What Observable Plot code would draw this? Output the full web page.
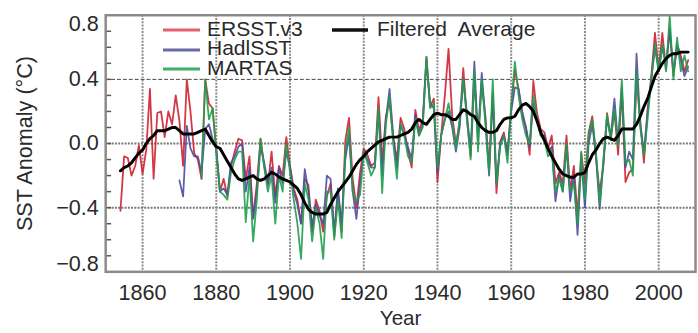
<!DOCTYPE html>
<html>
<head>
<meta charset="utf-8">
<script src="https://cdn.jsdelivr.net/npm/d3@7"></script>
<script src="https://cdn.jsdelivr.net/npm/@observablehq/plot@0.6"></script>
<style>
  html, body { margin: 0; padding: 0; background: #fff; overflow: hidden; }
  #wrap { position: relative; width: 698px; height: 333px; overflow: hidden; }
  #legend { position: absolute; left: 0; top: 0; }
  svg text { font-family: "Liberation Sans", Arial, sans-serif; }
</style>
</head>
<body>
<div id="wrap"></div>
<script>
const ersstStart = 1854;
const ersst = [-0.42,-0.08,-0.09,-0.20,-0.14,-0.01,-0.19,-0.04,0.34,-0.22,
0.19,0.20,0.04,0.20,0.12,0.30,0.14,-0.14,0.40,0.20,
-0.06,-0.10,-0.22,0.40,0.25,0.22,-0.05,-0.30,-0.22,-0.33,
-0.14,-0.05,0.03,0.02,-0.22,-0.08,-0.46,-0.25,0.03,-0.14,
-0.26,-0.05,-0.33,-0.14,-0.20,0.04,-0.14,-0.28,-0.35,-0.50,
-0.22,-0.26,-0.55,-0.35,-0.42,-0.55,-0.33,-0.25,-0.58,-0.30,
-0.55,0.02,0.16,-0.22,-0.40,-0.18,-0.03,-0.07,-0.14,-0.12,
0.29,-0.12,0.17,0.26,0.03,-0.10,0.16,0.09,-0.05,-0.15,
0.21,0.08,0.15,0.54,0.23,0.28,-0.24,0.05,0.30,0.59,
0.17,0.00,0.12,0.47,0.15,-0.08,0.40,0.05,0.38,0.17,
-0.15,0.32,-0.31,0.01,0.07,-0.07,0.23,0.46,0.34,0.17,
0.10,-0.07,0.39,0.19,0.09,0.07,-0.03,0.05,-0.25,-0.18,
-0.25,0.05,-0.30,-0.14,-0.45,-0.06,-0.25,0.07,0.17,-0.09,
-0.30,-0.14,0.19,0.03,0.20,-0.07,0.33,-0.24,-0.18,-0.16,
0.40,0.15,-0.12,0.21,0.42,0.69,0.46,0.69,0.46,0.72,
0.42,0.62,0.55,0.45,0.52];

const hadStart = 1870;
const hadisst = [-0.23,-0.33,0.11,-0.03,-0.08,-0.08,-0.18,0.09,0.12,0.03,
-0.03,-0.30,-0.28,-0.32,-0.12,-0.08,-0.02,0.00,-0.30,-0.15,
-0.47,-0.30,-0.02,-0.12,-0.25,-0.15,-0.37,-0.15,-0.25,-0.05,
-0.15,-0.30,-0.38,-0.50,-0.16,-0.30,-0.52,-0.38,-0.45,-0.50,
-0.20,-0.22,-0.55,-0.28,-0.50,-0.10,0.05,-0.30,-0.47,-0.25,
-0.05,-0.10,-0.15,-0.15,0.20,-0.20,0.15,0.34,0.05,-0.15,
0.12,0.05,-0.02,-0.10,0.18,0.05,0.12,0.52,0.25,0.22,
-0.18,0.05,0.15,0.20,0.10,-0.05,0.10,0.40,0.18,-0.05,
0.51,0.02,0.44,0.15,-0.20,0.30,-0.25,0.00,0.05,-0.05,
0.20,0.35,0.34,0.20,0.10,-0.02,0.25,0.15,0.05,0.05,
-0.05,-0.02,-0.36,-0.20,-0.30,-0.02,-0.36,-0.20,-0.57,-0.10,
-0.40,0.00,0.12,-0.08,-0.41,-0.12,0.15,0.05,0.28,0.00,
0.35,-0.15,-0.05,-0.10,0.56,0.12,-0.05,0.20,0.40,0.60,
0.45,0.60,0.50,0.70,0.45,0.60,0.52,0.42,0.48];

const martasStart = 1876;
const martas = [-0.22,0.40,0.15,0.22,-0.05,-0.30,-0.32,-0.35,-0.18,-0.10,
-0.05,-0.05,-0.49,-0.20,-0.61,-0.35,0.03,-0.15,-0.30,-0.20,
-0.50,-0.20,-0.30,0.00,-0.18,-0.35,-0.50,-0.72,-0.25,-0.35,
-0.61,-0.40,-0.50,-0.72,-0.30,-0.30,-0.60,-0.35,-0.59,-0.05,
0.10,-0.30,-0.36,-0.32,-0.05,-0.12,-0.20,-0.15,0.22,-0.31,
0.12,0.30,0.00,-0.22,0.12,0.05,-0.08,-0.12,0.15,0.05,
0.10,0.54,0.22,0.25,-0.15,0.05,0.15,0.25,0.12,-0.03,
0.15,0.40,0.15,-0.10,0.45,-0.05,0.40,0.12,-0.18,0.40,
-0.25,-0.02,0.05,-0.12,0.22,0.51,0.30,0.15,0.05,0.00,
0.30,0.15,0.05,0.02,-0.08,-0.05,-0.30,-0.22,-0.30,0.00,
-0.30,-0.25,-0.50,-0.05,-0.35,0.05,0.15,-0.05,-0.38,-0.10,
0.18,0.02,0.22,-0.02,0.40,-0.12,-0.10,-0.20,0.45,0.10,
-0.08,0.15,0.40,0.62,0.45,0.62,0.45,0.80,0.40,0.66,
0.45,0.55,0.45];

const filtStart = 1854;
const filtered = [-0.17,-0.15,-0.14,-0.12,-0.09,-0.06,-0.04,0.00,0.03,0.05,
0.08,0.08,0.08,0.09,0.10,0.10,0.08,0.06,0.06,0.06,
0.06,0.07,0.08,0.09,0.05,0.01,-0.02,-0.03,-0.07,-0.11,
-0.15,-0.19,-0.22,-0.23,-0.22,-0.21,-0.20,-0.22,-0.23,-0.22,
-0.20,-0.18,-0.19,-0.21,-0.22,-0.23,-0.24,-0.26,-0.28,-0.32,
-0.37,-0.41,-0.43,-0.44,-0.44,-0.44,-0.43,-0.38,-0.34,-0.30,
-0.27,-0.24,-0.21,-0.17,-0.13,-0.10,-0.08,-0.05,-0.03,-0.01,
0.01,0.02,0.03,0.04,0.04,0.04,0.05,0.06,0.07,0.09,
0.13,0.15,0.13,0.12,0.15,0.18,0.19,0.18,0.18,0.17,
0.15,0.15,0.18,0.21,0.20,0.18,0.17,0.13,0.10,0.08,
0.07,0.07,0.08,0.12,0.15,0.16,0.16,0.17,0.21,0.24,
0.25,0.23,0.20,0.14,0.07,0.02,-0.03,-0.08,-0.12,-0.16,
-0.19,-0.20,-0.21,-0.21,-0.19,-0.19,-0.18,-0.12,-0.07,-0.04,
0.00,0.03,0.04,0.03,0.02,0.05,0.09,0.09,0.09,0.09,
0.12,0.17,0.23,0.28,0.35,0.42,0.46,0.50,0.53,0.55,
0.56,0.56,0.57,0.57,0.57];

const xTicks = [1860,1880,1900,1920,1940,1960,1980,2000];
const yLabelTicks = [-0.4, 0.0, 0.4];
const yTopTick = [0.8];
const yBottomTick = [-0.8];
const yMinorTicks = [-0.7,-0.6,-0.5,-0.4,-0.3,-0.2,-0.1,0,0.1,0.2,0.3,0.4,0.5,0.6,0.7];
const seriesNames = ["ERSST.v3","HadlSST","MARTAS","Filtered  Average"];
const seriesColors = ["#d12b3a","#4b4ba3","#1f9e4c","#000000"];
const legendColors = ["#e4606c","#6a6aa8","#3fae68","#111111"];

const toRows = (start, vals) => vals.map((v, i) => ({year: start + i, v}));
const fmt = d3.format(".1f");
const FS = 22;
const LFS = 21;
const TXT = "#2a2a2a";

const chart = Plot.plot({
  width: 710, height: 333,
  marginLeft: 107, marginRight: 3, marginTop: 15, marginBottom: 57,
  style: {fontFamily: "Liberation Sans, Arial, sans-serif", fontSize: FS + "px", color: TXT, background: "#fff"},
  x: {domain: [1850, 2010], axis: null},
  y: {domain: [-0.8, 0.8], axis: null},
  marks: [
    Plot.ruleX(xTicks, {stroke: "#8a8a8a", strokeWidth: 2, strokeDasharray: "2,1.3"}),
    Plot.ruleY([0.4], {stroke: "#444", strokeWidth: 1, strokeDasharray: "4,2"}),
    Plot.ruleY([0.0, -0.4], {stroke: "#777", strokeWidth: 2, strokeDasharray: "2,1.3"}),
    Plot.line(toRows(ersstStart, ersst), {x: "year", y: "v", stroke: seriesColors[0], strokeWidth: 1.8, strokeOpacity: 0.95}),
    Plot.line(toRows(hadStart, hadisst), {x: "year", y: "v", stroke: seriesColors[1], strokeWidth: 1.8, strokeOpacity: 0.9}),
    Plot.line(toRows(martasStart, martas), {x: "year", y: "v", stroke: seriesColors[2], strokeWidth: 1.8, strokeOpacity: 0.9}),
    Plot.line(toRows(filtStart, filtered), {x: "year", y: "v", stroke: "#000", strokeWidth: 3}),
    Plot.axisY(yMinorTicks, {tickSize: 6, dx: 6, tickFormat: null, text: null, label: null, stroke: "#555", strokeWidth: 1.5}),
    Plot.text(yLabelTicks, {y: d => d, text: d => fmt(d), frameAnchor: "left", dx: -7, textAnchor: "end", lineAnchor: "middle", fontSize: FS, fill: TXT}),
    Plot.text(yTopTick, {y: d => d, text: d => fmt(d), frameAnchor: "left", dx: -7, dy: 9, textAnchor: "end", lineAnchor: "middle", fontSize: FS, fill: TXT}),
    Plot.text(yBottomTick, {y: d => d, text: d => fmt(d), frameAnchor: "left", dx: -7, dy: -8, textAnchor: "end", lineAnchor: "middle", fontSize: FS, fill: TXT}),
    Plot.text(xTicks, {x: d => d, text: d => String(d), frameAnchor: "bottom", dy: 22, textAnchor: "middle", lineAnchor: "middle", fontSize: FS, fill: TXT}),
    Plot.text(["Year"], {frameAnchor: "bottom", dy: 47, lineAnchor: "middle", fontSize: LFS, fill: TXT}),
    Plot.text(["SST Anomaly (°C)"], {frameAnchor: "left", dx: -82, textAnchor: "middle", lineAnchor: "middle", rotate: -90, fontSize: FS, fill: TXT}),
    Plot.frame({stroke: "#8a8a8a", strokeWidth: 2.5})
  ]
});
const wrap = document.getElementById("wrap");
wrap.appendChild(chart);

// Legend overlay
const ns = "http://www.w3.org/2000/svg";
const leg = document.createElementNS(ns, "svg");
leg.setAttribute("id", "legend");
leg.setAttribute("width", 698);
leg.setAttribute("height", 90);
const legendSpec = [
  {x1: 163, x2: 200, y: 30, tx: 207, ty: 28.5},
  {x1: 163, x2: 200, y: 50, tx: 207, ty: 47.5},
  {x1: 163, x2: 200, y: 69, tx: 207, ty: 67},
  {x1: 332, x2: 368, y: 30, tx: 377, ty: 28}
];
seriesNames.forEach((name, i) => {
  const s = legendSpec[i];
  const ln = document.createElementNS(ns, "line");
  ln.setAttribute("x1", s.x1); ln.setAttribute("x2", s.x2);
  ln.setAttribute("y1", s.y); ln.setAttribute("y2", s.y);
  ln.setAttribute("stroke", legendColors[i]);
  ln.setAttribute("stroke-width", i === 3 ? 3.5 : 3);
  leg.appendChild(ln);
  const t = document.createElementNS(ns, "text");
  t.setAttribute("x", s.tx); t.setAttribute("y", s.ty);
  t.setAttribute("dy", "0.36em");
  t.setAttribute("font-size", LFS);
  t.setAttribute("fill", TXT);
  t.style.whiteSpace = "pre";
  t.textContent = name;
  leg.appendChild(t);
});
wrap.appendChild(leg);
</script>
</body>
</html>
